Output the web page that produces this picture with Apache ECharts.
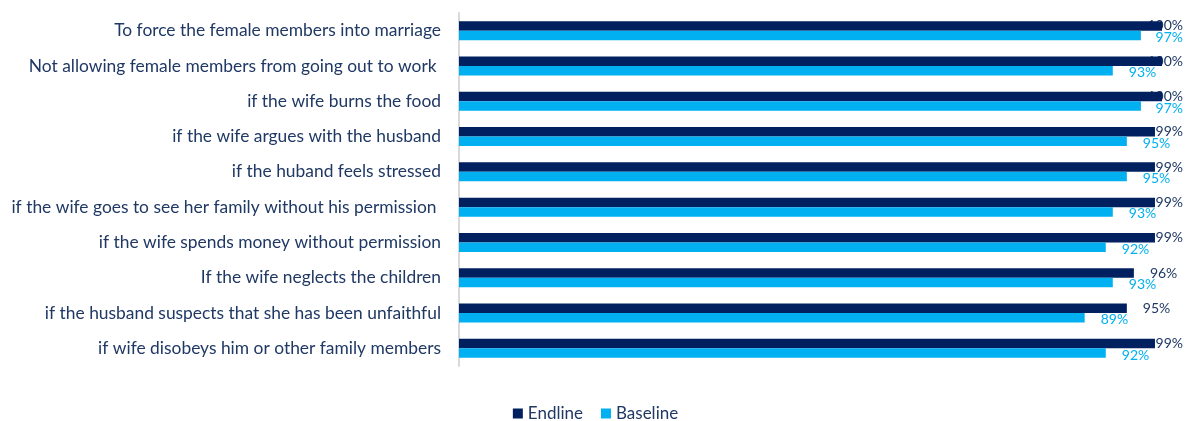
<!DOCTYPE html>
<html>
<head>
<meta charset="utf-8">
<script src="https://cdn.jsdelivr.net/npm/echarts@6/dist/echarts.min.js"></script>
<style>
  html, body { margin: 0; padding: 0; background: #ffffff; }
  #chart { width: 1191px; height: 421px; }
</style>
</head>
<body>
<div id="chart"></div>
<script>
// Reasons, listed top to bottom
const categories = [
  'To force the female members into marriage',
  'Not allowing female members from going out to work ',
  'if the wife burns the food',
  'if the wife argues with the husband',
  'if the huband feels stressed',
  'if the wife goes to see her family without his permission ',
  'if the wife spends money without permission',
  'If the wife neglects the children',
  'if the husband suspects that she has been unfaithful',
  'if wife disobeys him or other family members'
];
const endline = [100, 100, 100, 99, 99, 99, 99, 96, 95, 99];
const baseline = [97, 93, 97, 95, 95, 93, 92, 93, 89, 92];

const NAVY = '#002060';
const CYAN = '#00B0F0';
const TEXT = '#1F3864';
const FONT = 'Lato, "Open Sans", sans-serif';
const LABEL_SIZE = 14;
const BAR = 9.5;

const chart = echarts.init(document.getElementById('chart'));

chart.setOption({
  animation: false,
  backgroundColor: '#ffffff',
  grid: { left: 459, top: 13, width: 703, height: 353, containLabel: false },
  legend: {
    top: 400,
    left: 'center',
    icon: 'rect',
    itemWidth: 10,
    itemHeight: 10,
    itemGap: 18,
    textStyle: { color: TEXT, fontSize: 17, fontFamily: FONT },
    data: ['Endline', 'Baseline']
  },
  xAxis: {
    type: 'value',
    min: 0,
    max: 100,
    axisLine: { show: false },
    axisTick: { show: false },
    axisLabel: { show: false },
    splitLine: { show: false }
  },
  yAxis: {
    type: 'category',
    inverse: true,
    data: categories,
    axisLine: { show: true, lineStyle: { color: '#D9D9D9', width: 2 } },
    axisTick: { show: false },
    axisLabel: { color: TEXT, fontSize: 17.4, fontFamily: FONT, margin: 18 }
  },
  series: [
    { name: 'Endline', type: 'bar', z: 3, data: endline, barWidth: BAR, barGap: '0%', itemStyle: { color: NAVY } },
    { name: 'Baseline', type: 'bar', z: 3, data: baseline, barWidth: BAR, barGap: '0%', itemStyle: { color: CYAN } }
  ]
});

// Value labels: a little past the bar end, pulled back so they stay inside the
// chart's right margin; drawn underneath the bars.
const LABEL_GAP = 16;
const LABEL_RIGHT = 1183;
const ctx = document.createElement('canvas').getContext('2d');
ctx.font = LABEL_SIZE + 'px ' + FONT;

function labelSeries(name, values, color, dy) {
  return {
    name: name,
    type: 'scatter',
    z: 1,
    symbolSize: 0,
    silent: true,
    itemStyle: { opacity: 1 },
    data: values.map(function (v, i) {
      const text = v + '%';
      const end = chart.convertToPixel({ gridIndex: 0 }, [v, 0])[0];
      const w = ctx.measureText(text).width;
      const start = Math.min(end + LABEL_GAP, LABEL_RIGHT - w);
      return {
        value: [v, categories[i]],
        label: {
          show: true,
          position: 'right',
          distance: start - end,
          offset: [0, dy],
          color: color,
          opacity: 1,
          fontSize: LABEL_SIZE,
          fontFamily: FONT,
          formatter: text
        }
      };
    })
  };
}

chart.setOption({
  series: [
    { name: 'Endline', type: 'bar' },
    { name: 'Baseline', type: 'bar' },
    labelSeries('Endline value', endline, TEXT, -BAR / 2),
    labelSeries('Baseline value', baseline, CYAN, BAR / 2 + 2)
  ]
});
</script>
</body>
</html>
